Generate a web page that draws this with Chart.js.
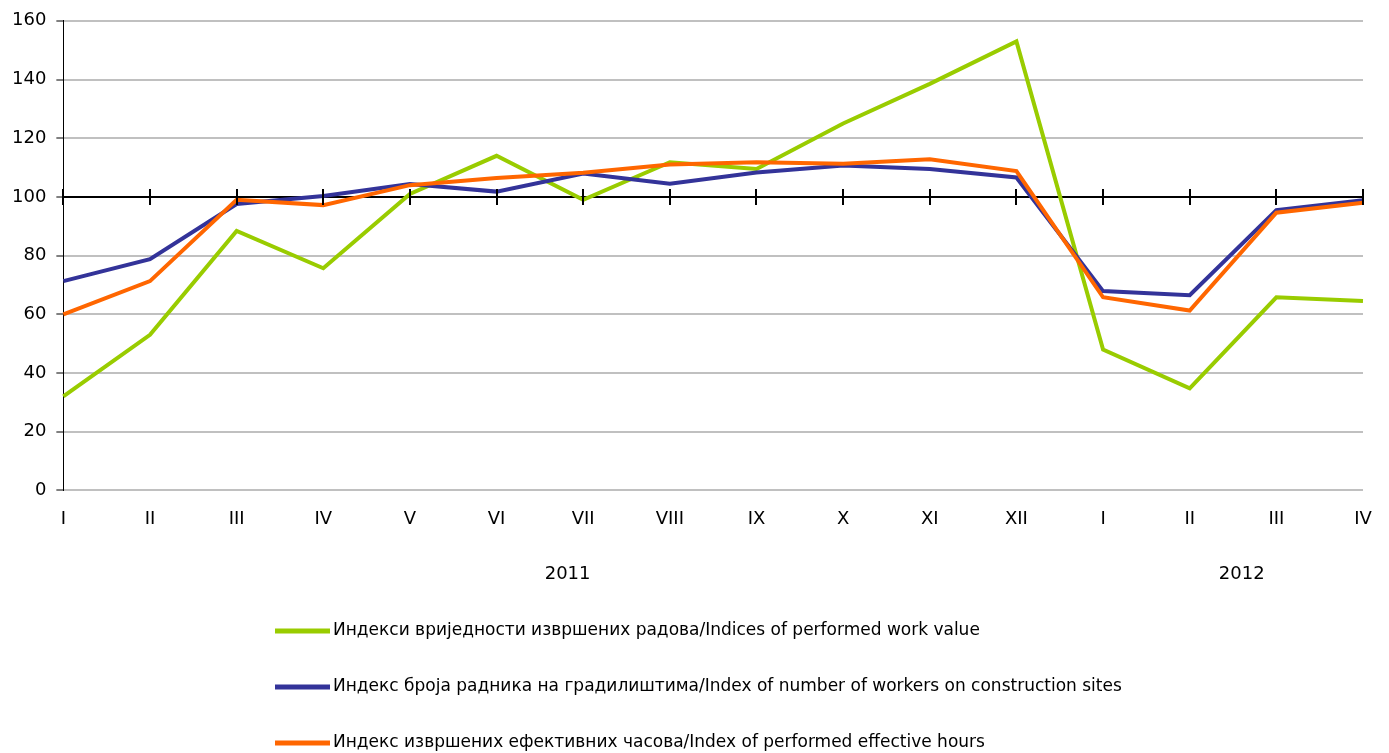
<!DOCTYPE html>
<html>
<head>
<meta charset="utf-8">
<script src="https://cdn.jsdelivr.net/npm/chart.js@4/dist/chart.umd.min.js"></script>
<style>
  html, body { margin: 0; padding: 0; background: #fff; }
  #wrap { width: 1389px; height: 753px; }
</style>
</head>
<body>
<div id="wrap"><canvas id="chart"></canvas></div>
<script>
// Data
const months = ["I", "II", "III", "IV", "V", "VI", "VII", "VIII", "IX", "X", "XI", "XII", "I", "II", "III", "IV"];
const years = ["2011", "2012"];
const yearPos = [5.82, 13.6]; // category index under which each year sits

const workValue = [32, 53, 88.4, 75.7, 101, 114, 99, 111.8, 109.5, 125, 138.5, 153, 48, 34.8, 65.8, 64.5];
const workers = [71.3, 78.8, 97.6, 100.3, 104.4, 101.8, 108, 104.5, 108.3, 110.7, 109.5, 106.6, 67.9, 66.5, 95.5, 98.9];
const hours = [60, 71.3, 99, 97.2, 104, 106.4, 108.2, 111, 111.8, 111.3, 112.8, 108.8, 65.8, 61.3, 94.6, 98];

const labels = [
  "Индекси вриједности извршених радова/Indices of performed work value",
  "Индекс броја радника на градилиштима/Index of number of workers on construction sites",
  "Индекс извршених ефективних часова/Index of performed effective hours"
];
const colors = ["#99cc00", "#333399", "#ff6600"];

const FONT = "'DejaVu Sans', Verdana, sans-serif";

// 100 line with tick marks, year labels and stacked legend
const extras = {
  id: "extras",
  afterDatasetsDraw(chart) {
    const { ctx, scales: { x, y } } = chart;
    const y100 = y.getPixelForValue(100);
    ctx.save();
    ctx.strokeStyle = "#000";
    ctx.lineWidth = 2;
    months.forEach((m, i) => {
      const px = Math.round(x.getPixelForValue(i));
      ctx.beginPath();
      ctx.moveTo(px, y100 - 8);
      ctx.lineTo(px, y100 + 8);
      ctx.stroke();
    });
    ctx.restore();
  },
  afterDraw(chart) {
    const { ctx, scales: { x } } = chart;
    ctx.save();
    ctx.fillStyle = "#000";
    ctx.font = "18px " + FONT;
    ctx.textAlign = "center";
    ctx.textBaseline = "middle";
    years.forEach((yr, i) => {
      ctx.fillText(yr, x.getPixelForValue(yearPos[i]), 574);
    });
    ctx.textAlign = "left";
    ctx.font = "17px " + FONT;
    labels.forEach((lb, i) => {
      const ly = 631 + i * 56;
      ctx.strokeStyle = colors[i];
      ctx.lineWidth = 5;
      ctx.beginPath();
      ctx.moveTo(275, ly);
      ctx.lineTo(330, ly);
      ctx.stroke();
      ctx.fillText(lb, 333, ly);
    });
    ctx.restore();
  }
};

const ctx = document.getElementById("chart").getContext("2d");
new Chart(ctx, {
  type: "line",
  data: {
    labels: months,
    datasets: [
      { label: labels[0], data: workValue, borderColor: colors[0], order: 3 },
      { label: labels[1], data: workers, borderColor: colors[1], order: 2 },
      { label: labels[2], data: hours, borderColor: colors[2], order: 1 }
    ].map(d => Object.assign(d, { borderWidth: 4, pointRadius: 0, tension: 0, fill: false, borderJoinStyle: "miter" }))
  },
  options: {
    responsive: true,
    maintainAspectRatio: false,
    animation: false,
    layout: { padding: { top: 11, right: 26, left: 2, bottom: 213 } },
    plugins: {
      legend: { display: false },
      tooltip: { enabled: false }
    },
    scales: {
      x: {
        offset: false,
        grid: { display: false },
        border: { display: false },
        ticks: { color: "#000", font: { family: FONT, size: 18 }, padding: 10, maxRotation: 0, autoSkip: false }
      },
      y: {
        min: 0,
        max: 160,
        ticks: { stepSize: 20, color: "#000", font: { family: FONT, size: 18 }, padding: 10 },
        grid: {
          color: c => (c.tick && c.tick.value === 100 ? "#000" : "#c0c0c0"),
          lineWidth: 2,
          tickColor: "#000",
          tickLength: 7,
          tickWidth: 1
        },
        border: { display: true, color: "#000", width: 1 }
      }
    }
  },
  plugins: [extras]
});
</script>
</body>
</html>
